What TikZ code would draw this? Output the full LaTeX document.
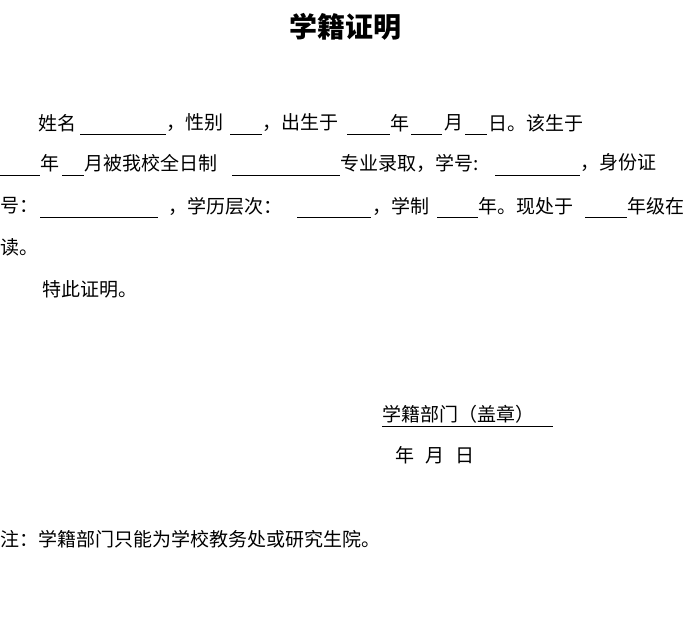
\documentclass[tikz,border=0pt]{standalone}
\usepackage{fontspec}
\setmainfont{Noto Sans CJK SC}
\begin{document}
\begin{tikzpicture}[x=1pt,y=-1pt,
    seg/.style={anchor=west,inner sep=0pt,font=\fontsize{19}{19}\selectfont},
    blank/.style={line width=0.8pt}]
  \useasboundingbox (0,0) rectangle (692,627);
  \node[font=\fontsize{28}{28}\selectfont\bfseries] (title) at (345,27) {学籍证明};
  % line 1
  \node[seg] (a1) at (38,123) {姓名};
  \node[seg] (a2) at (166,123) {，性别};
  \node[seg] (a3) at (262,123) {，出生于};
  \node[seg] (a4) at (390,123) {年};
  \node[seg] (a5) at (444,123) {月};
  \node[seg] (a6) at (488,123) {日。该生于};
  \draw[blank] (80,134) -- (166,134) (230,134) -- (262,134) (347,134) -- (390,134)
    (411,134) -- (442,134) (465,134) -- (487,134);
  % line 2
  \node[seg] (b1) at (40,163) {年};
  \node[seg] (b2) at (84,163) {月被我校全日制};
  \node[seg] (b3) at (340,163) {专业录取，学号:};
  \node[seg] (b4) at (580,163) {，身份证};
  \draw[blank] (0,175) -- (40,175) (62,175) -- (84,175) (232,175) -- (340,175) (495,175) -- (580,175);
  % line 3
  \node[seg] (c1) at (0,206) {号：};
  \node[seg] (c2) at (168,206) {，学历层次：};
  \node[seg] (c3) at (372,206) {，学制};
  \node[seg] (c4) at (478,206) {年。现处于};
  \node[seg] (c5) at (627,206) {年级在};
  \draw[blank] (40,217) -- (158,217) (297,217) -- (371,217) (437,217) -- (478,217) (585,217) -- (627,217);
  \node[seg] (d1) at (0,247) {读。};
  \node[seg] (e1) at (42,289) {特此证明。};
  % signature
  \node[seg] (sig) at (382,414) {学籍部门（盖章）};
  \draw[blank] (382,426) -- (553,426);
  \node[seg] (date) at (395,455) {年\hspace{11pt}月\hspace{11pt}日};
  \node[seg] (note) at (0,539) {注：学籍部门只能为学校教务处或研究生院。};
\end{tikzpicture}
\end{document}
